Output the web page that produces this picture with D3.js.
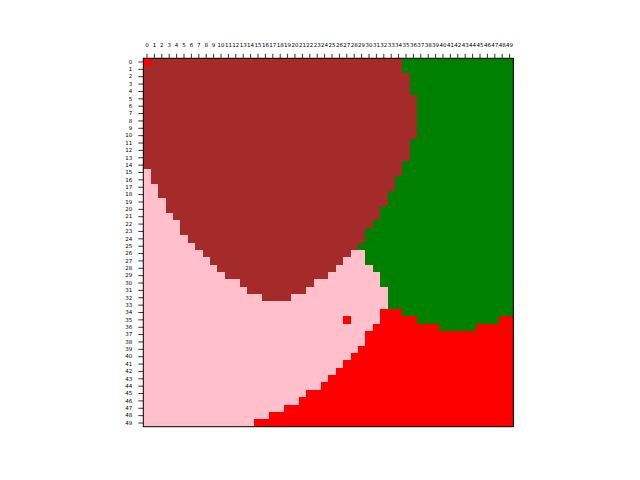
<!DOCTYPE html>
<html><head><meta charset="utf-8">
<script src="https://cdn.jsdelivr.net/npm/d3@7"></script>
<style>body{margin:0;background:#fff}</style>
</head><body>
<svg id="c" width="640" height="480"></svg>
<script>
// Category colours (matplotlib named colours)
const categories = ["b", "g", "p", "r"];
const categoryColors = ["#a52a2a", "#008000", "#ffc0cb", "#ff0000"];
// Tick labels 0..49
const colLabels = ["0","1","2","3","4","5","6","7","8","9","10","11","12","13","14","15","16","17","18","19","20","21","22","23","24","25","26","27","28","29","30","31","32","33","34","35","36","37","38","39","40","41","42","43","44","45","46","47","48","49"];
const rowLabels = colLabels.slice();
// Each row as run-length: category+count, left to right
const rowRuns = [
 "r1 b34 g15","b35 g15","b36 g14","b36 g14","b36 g14",
 "b37 g13","b37 g13","b37 g13","b37 g13","b37 g13",
 "b37 g13","b36 g14","b36 g14","b36 g14","b35 g15",
 "p1 b34 g15","p1 b33 g16","p2 b32 g16","p2 b31 g17","p3 b30 g17",
 "p3 b29 g18","p4 b28 g18","p5 b26 g19","p5 b25 g20","p6 b24 g20",
 "p7 b22 g21","p8 b20 p2 g20","p9 b18 p3 g20","p10 b16 p5 g19","p11 b14 p7 g18",
 "p13 b10 p9 g18","p14 b8 p11 g17","p16 b4 p13 g17","p33 g17","p32 r3 g15",
 "p27 r1 p4 r5 g11 r2","p31 r9 g5 r5","p30 r20","p30 r20","p29 r21",
 "p28 r22","p27 r23","p26 r24","p25 r25","p24 r26",
 "p22 r28","p21 r29","p19 r31","p17 r33","p15 r35"
];

const cells = [];
rowRuns.forEach((s, r) => {
  let c = 0;
  s.split(" ").forEach(tok => {
    const cat = tok[0], n = +tok.slice(1);
    for (let k = 0; k < n; k++) { cells.push({row: r, col: c, cat}); c++; }
  });
});

const svg = d3.select("#c");
const pL = 143.3, pR = 513.3, pT = 58.3, pB = 426.7;
const x = d3.scaleBand().domain(colLabels).range([pL, pR]).padding(0);
const y = d3.scaleBand().domain(rowLabels).range([pT, pB]).padding(0);
const color = d3.scaleOrdinal().domain(categories).range(categoryColors);

svg.append("g").selectAll("rect").data(cells).join("rect")
  .attr("x", d => x(colLabels[d.col]))
  .attr("y", d => y(rowLabels[d.row]))
  .attr("width", x.bandwidth() + 0.4)
  .attr("height", y.bandwidth() + 0.4)
  .attr("fill", d => color(d.cat))
  .attr("shape-rendering", "crispEdges");

// frame
svg.append("rect").attr("x", pL).attr("y", pT)
  .attr("width", pR - pL).attr("height", pB - pT)
  .attr("fill", "none").attr("stroke", "#000").attr("stroke-width", 1);

const font = "DejaVu Sans, sans-serif";
const gx = svg.append("g").attr("transform", `translate(0,${pT})`)
  .call(d3.axisTop(x).tickSize(4.5).tickPadding(7.2));
gx.select(".domain").remove();
gx.selectAll("text").attr("font-size", 5.5).attr("font-family", font).attr("fill", "#000");
gx.selectAll("line").attr("stroke", "#000").attr("stroke-width", 0.8);

const gy = svg.append("g").attr("transform", `translate(${pL},0)`)
  .call(d3.axisLeft(y).tickSize(5).tickPadding(6));
gy.select(".domain").remove();
gy.selectAll("text").attr("font-size", 5.5).attr("font-family", font).attr("fill", "#000");
gy.selectAll("line").attr("stroke", "#000").attr("stroke-width", 0.8);
</script>
</body></html>
